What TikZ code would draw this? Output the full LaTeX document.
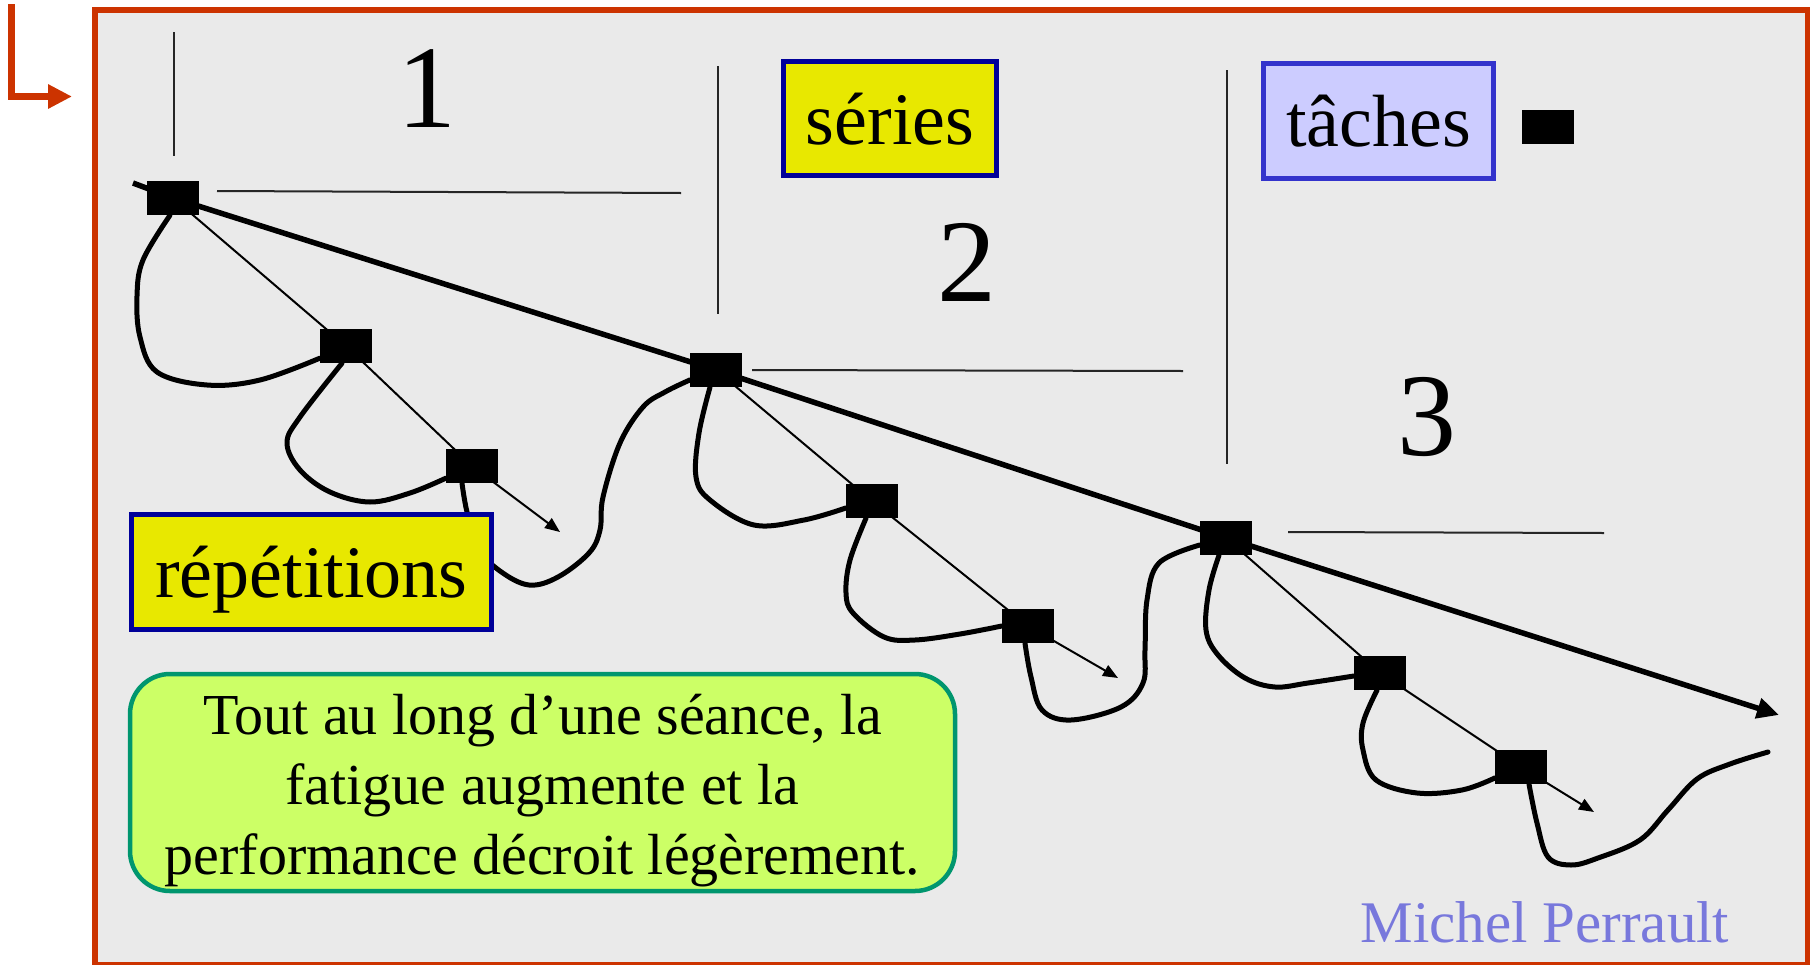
\documentclass[tikz,border=0pt]{standalone}
\usepackage{fontspec}
\setmainfont{Liberation Serif}
\usetikzlibrary{arrows.meta}
\pgfdeclarelayer{back}
\pgfdeclarelayer{mid}
\pgfsetlayers{back,mid,main}
\definecolor{framered}{RGB}{204,51,0}
\definecolor{panelgray}{RGB}{234,234,234}
\definecolor{ylwfill}{RGB}{232,232,0}
\definecolor{navyline}{RGB}{0,0,153}
\definecolor{lilacfill}{RGB}{204,204,255}
\definecolor{lilacline}{RGB}{51,51,204}
\definecolor{limefill}{RGB}{204,255,102}
\definecolor{tealline}{RGB}{0,150,110}
\definecolor{signcol}{RGB}{120,120,220}
\begin{document}
\begin{tikzpicture}[x=1pt,y=-1pt,
  sq/.style={fill=black, draw=none, minimum width=52pt, minimum height=34pt, inner sep=0pt},
  loopline/.style={line width=5pt, line join=round, line cap=round},
  mainline/.style={line width=5.5pt, -{Triangle[length=22pt,width=20pt]}},
  subline/.style={line width=2pt},
  subarrow/.style={line width=2pt, -{Triangle[length=15pt,width=12pt]}},
  marker/.style={line width=2pt, draw=black!85},
  lbl/.style={font=\fontsize{74}{80}\selectfont, line width=5pt, inner sep=0pt, text height=51pt, text depth=0pt},
  digit/.style={font=\fontsize{118}{120}\selectfont, inner sep=0pt},
]
\useasboundingbox (0,0) rectangle (1810,964);

% squares
\node[sq] (A) at (173,198) {};
\node[sq] (B) at (346,346) {};
\node[sq] (C) at (472,466) {};
\node[sq] (D) at (716,370) {};
\node[sq] (E) at (872,501) {};
\node[sq] (F) at (1028,626) {};
\node[sq] (G) at (1226,538) {};
\node[sq] (H) at (1380,673) {};
\node[sq] (I) at (1521,767) {};
\node[sq] (key) at (1548,127) {};

% free ends
\coordinate (t0) at (133,183);
\coordinate (tend) at (1779,715);
\coordinate (aC) at (560,532);
\coordinate (aF) at (1118,678);
\coordinate (aI) at (1594,812);
\coordinate (wend) at (1768,752);

% digits
\node[digit] (n1) at (427,89) {1};
\node[digit] (n2) at (967,262) {2};
\node[digit] (n3) at (1427,417) {3};

% labels
\node[lbl, fill=ylwfill, draw=navyline, minimum width=213pt, minimum height=114pt] (series) at (890,118.5) {séries};
\node[lbl, fill=lilacfill, draw=lilacline, minimum width=230pt, minimum height=115pt] (taches) at (1378.5,121) {tâches};
\node[lbl, fill=ylwfill, draw=navyline, minimum width=360pt, minimum height=115pt] (repet) at (311.5,572) {répétitions};

\node[fill=limefill, draw=tealline, line width=4.5pt, rounded corners=40pt,
      minimum width=825pt, minimum height=217pt, inner sep=0pt, align=center,
      font=\fontsize{58}{70}\selectfont] (note) at (542.5,782.5)
  {\rule{0pt}{56pt}Tout au long d’une séance, la\\fatigue augmente et la\\performance décroit légèrement.};

\node[anchor=base, inner sep=0pt, text=signcol, font=\fontsize{59}{60}\selectfont] (sign) at (1545,942) {Michel Perrault};

\begin{pgfonlayer}{back}
  \fill[panelgray] (95,10) rectangle (1808,965);
  \draw[framered, line width=6pt] (95,10) rectangle (1808,965);
  \coordinate (r0) at (11.5,4);
  \coordinate (r1) at (72,96.5);
  \draw[framered, line width=7pt, -{Triangle[length=24pt,width=23pt]}] (r0) |- (r1);
\end{pgfonlayer}

\begin{pgfonlayer}{mid}
  % marker lines
  \draw[marker] (174,32) -- (174,156);
  \draw[marker] (217,191) -- (681,193);
  \draw[marker] (718,66) -- (718,314);
  \draw[marker] (752,370) -- (1183,371);
  \draw[marker] (1227,70) -- (1227,464);
  \draw[marker] (1288,532) -- (1604,533);

  % main line
  \draw[mainline] (t0) -- (A.center) -- (D.center) -- (G.center) -- (tend);

  % sub lines
  \draw[subline] (A.center) -- (B.center) -- (C.center);
  \draw[subarrow] (C.center) -- (aC);
  \draw[subline] (D.center) -- (E.center) -- (F.center);
  \draw[subarrow] (F.center) -- (aF);
  \draw[subline] (G.center) -- (H.center) -- (I.center);
  \draw[subarrow] (I.center) -- (aI);

  % loops
  \draw[loopline] plot[smooth, tension=0.6] coordinates {([xshift=-3pt]A.south) (143,260) (137,296) (140,337) (157,372) (207,385) (260,380) ([yshift=5pt]B.south west)};
  \draw[loopline] plot[smooth, tension=0.6] coordinates {([xshift=-4pt]B.south) (300,417) (287,443) (300,470) (330,492) (370,502) (410,493) ([yshift=5pt]C.south west)};
  \draw[loopline] plot[smooth, tension=0.6] coordinates {([xshift=-10pt]C.south) (467,512) (478,548) (500,571) (529,585) (558,577) (589,553) (600,530) (603,497) (620,443) (643,407) (665,392) ([yshift=-10pt]D.west)};
  \draw[loopline] plot[smooth, tension=0.6] coordinates {([xshift=-6pt]D.south) (699,433) (696,477) (710,500) (754,525) (804,520) ([yshift=-7pt]E.west)};
  \draw[loopline] plot[smooth, tension=0.6] coordinates {([xshift=-6pt]E.south) (850,560) (846,593) (853,613) (884,637) (915,640) (960,634) (F.west)};
  \draw[loopline] plot[smooth, tension=0.6] coordinates {([xshift=-3pt]F.south) (1031,677) (1042,710) (1071,720) (1121,707) (1143,683) (1145,650) (1147,600) (1159,563) ([yshift=-7pt]G.west)};
  \draw[loopline] plot[smooth, tension=0.6] coordinates {([xshift=-7pt]G.south) (1209,590) (1206,630) (1218,655) (1245,678) (1275,687) (1308,683) ([yshift=-3pt]H.west)};
  \draw[loopline] plot[smooth, tension=0.6] coordinates {([xshift=-3pt]H.south) (1363,723) (1363,750) (1376,780) (1417,793) (1462,790) ([yshift=-11pt]I.west)};
  \draw[loopline] plot[smooth, tension=0.6] coordinates {([xshift=8pt]I.south) (1537,823) (1548,857) (1571,865) (1598,858) (1640,840) (1668,810) (1697,779) (1730,764) (wend)};
\end{pgfonlayer}
\end{tikzpicture}
\end{document}
